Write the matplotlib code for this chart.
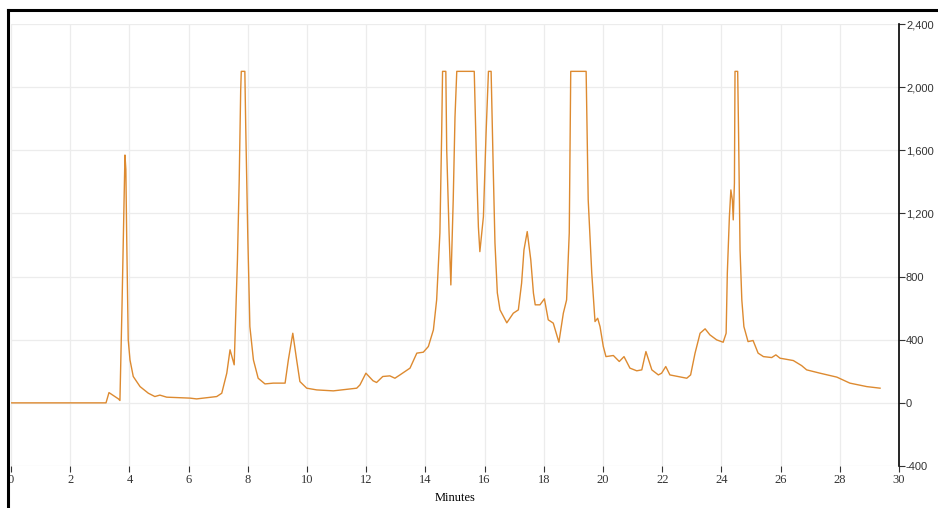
import numpy as np
import matplotlib
matplotlib.use('Agg')
import matplotlib.pyplot as plt
from matplotlib.ticker import FuncFormatter
from matplotlib.lines import Line2D

# chromatogram trace (minutes, detector response)
minutes = [0.0, 3.21, 3.31, 3.63, 3.68, 3.75, 3.82, 3.85, 3.88, 3.91, 3.96, 4.02, 4.13, 4.36,
           4.64, 4.86, 5.03, 5.26, 6.05, 6.27, 6.95, 7.12, 7.29, 7.40, 7.54, 7.65, 7.71, 7.76,
           7.78, 7.90, 7.93, 8.00, 8.07, 8.19, 8.35, 8.58, 8.86, 9.26, 9.37, 9.52, 9.65, 9.76,
           9.99, 10.33, 10.89, 11.68, 11.79, 11.99, 12.23, 12.35, 12.56, 12.80, 12.97, 13.14,
           13.48, 13.71, 13.93, 14.10, 14.27, 14.38, 14.49, 14.55, 14.58, 14.69, 14.72, 14.80,
           14.86, 14.94, 15.00, 15.06, 15.65, 15.73, 15.79, 15.84, 15.96, 16.05, 16.13, 16.22,
           16.29, 16.35, 16.43, 16.52, 16.75, 16.97, 17.14, 17.25, 17.33, 17.44, 17.56, 17.65,
           17.71, 17.87, 18.02, 18.15, 18.32, 18.51, 18.66, 18.77, 18.86, 18.91, 19.43, 19.50,
           19.62, 19.73, 19.82, 19.90, 20.01, 20.10, 20.35, 20.55, 20.71, 20.91, 21.14, 21.31,
           21.45, 21.65, 21.87, 21.98, 22.12, 22.26, 22.54, 22.83, 22.96, 23.11, 23.28, 23.45,
           23.61, 23.84, 24.06, 24.16, 24.20, 24.27, 24.32, 24.37, 24.40, 24.44, 24.46, 24.55,
           24.58, 24.63, 24.69, 24.76, 24.90, 25.07, 25.24, 25.42, 25.70, 25.84, 25.98, 26.43,
           26.71, 26.88, 27.33, 27.90, 28.34, 28.91, 29.36]
signal = [0, 0, 65, 25, 15, 610, 1300, 1570, 1480, 1033, 400, 272, 167, 103,
          61, 40, 49, 36, 30, 25, 40, 61, 188, 336, 241, 906, 1413, 1983,
          2100, 2100, 1750, 1053, 483, 272, 156, 120, 125, 125, 272, 441, 272, 135,
          93, 82, 76, 93, 114, 188, 140, 129, 167, 171, 156, 177,
          220, 315, 321, 357, 462, 652, 1077, 1710, 2100, 2100, 1603, 1077,
          747, 1286, 1812, 2100, 2100, 1495, 1115, 958, 1180, 1710, 2100, 2100,
          1497, 1013, 697, 589, 507, 568, 589, 758, 969, 1085, 906, 695,
          621, 621, 659, 526, 505, 384, 568, 652, 1077, 2100, 2100, 1286,
          823, 515, 536, 483, 357, 293, 300, 262, 293, 220, 203, 209,
          325, 209, 177, 188, 230, 177, 167, 156, 177, 315, 441, 469,
          431, 399, 384, 441, 822, 1180, 1349, 1286, 1159, 1392, 2100, 2100,
          1709, 969, 652, 483, 388, 395, 315, 293, 287, 304, 283, 268,
          236, 209, 188, 163, 125, 103, 93]

x_ticks = np.arange(0, 31, 2)
y_ticks = np.arange(-400, 2401, 400)

fig = plt.figure(figsize=(9.38, 5.08), dpi=100)
ax = fig.add_axes([11/938, 1 - 466/508, 888/938, 442/508])

ax.plot(minutes, signal, color='#DD8A30', lw=1.0, zorder=3)

ax.set_xlim(0, 30)
ax.set_ylim(-400, 2400)
ax.set_xticks(x_ticks)
ax.set_yticks(y_ticks)
ax.yaxis.set_major_formatter(FuncFormatter(lambda v, p: '{:,.0f}'.format(v)))
ax.grid(True, color='#ECECEC', lw=0.9, zorder=0)

for s in ['left', 'top', 'bottom']:
    ax.spines[s].set_visible(False)
ax.spines['right'].set_color('black')
ax.spines['right'].set_linewidth(1.2)

ax.yaxis.tick_right()
ax.tick_params(axis='y', direction='out', length=4, width=0.8, pad=1, colors='#333333',
               labelsize=8, labelfontfamily='Liberation Sans')
ax.tick_params(axis='x', direction='out', length=4, width=0.8, pad=2, colors='#333333',
               labelsize=9, labelfontfamily='Liberation Serif')

ax.set_xlabel('Minutes', fontsize=9, family='Liberation Serif', labelpad=4)

# frame around the picture (top and left only, rest is cropped)
fig.add_artist(Line2D([8/938, 1], [1 - 10/508, 1 - 10/508], color='black', lw=2.2,
                      transform=fig.transFigure))
fig.add_artist(Line2D([8/938, 8/938], [0, 1 - 10/508], color='black', lw=2.2,
                      transform=fig.transFigure))

plt.savefig('out.png', dpi=100)
plt.close()
